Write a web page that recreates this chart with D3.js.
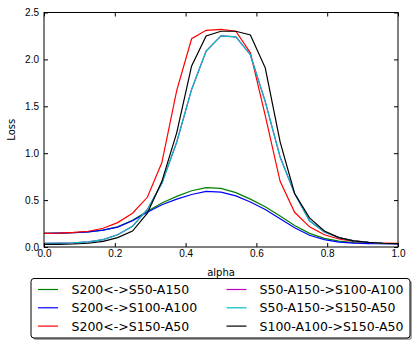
<!DOCTYPE html>
<html>
<head>
<meta charset="utf-8">
<script src="https://cdn.jsdelivr.net/npm/d3@7/dist/d3.min.js"></script>
<style>
  html, body { margin: 0; padding: 0; background: #fff; }
  svg { display: block; font-family: "DejaVu Sans", sans-serif; }
</style>
</head>
<body>
<div id="chart"></div>
<script>
// alpha grid (25 samples)
const alpha = [0, 0.042, 0.083, 0.125, 0.167, 0.208, 0.25, 0.292, 0.333, 0.375, 0.417, 0.458,
  0.5, 0.542, 0.583, 0.625, 0.667, 0.708, 0.75, 0.792, 0.833, 0.875, 0.917, 0.958, 1];

const s200_s50a150 = [0.145, 0.147, 0.152, 0.162, 0.18, 0.215, 0.285, 0.38, 0.47, 0.54, 0.6, 0.632,
  0.625, 0.58, 0.51, 0.43, 0.33, 0.23, 0.145, 0.092, 0.062, 0.047, 0.04, 0.037, 0.035];
const s200_s100a100 = [0.145, 0.147, 0.152, 0.162, 0.18, 0.212, 0.28, 0.37, 0.45, 0.51, 0.56, 0.592,
  0.585, 0.545, 0.48, 0.4, 0.3, 0.205, 0.125, 0.078, 0.052, 0.041, 0.037, 0.035, 0.034];
const s200_s150a50 = [0.145, 0.148, 0.155, 0.168, 0.2, 0.26, 0.36, 0.53, 0.9, 1.67, 2.22, 2.31,
  2.32, 2.3, 2.07, 1.4, 0.7, 0.37, 0.215, 0.13, 0.085, 0.06, 0.048, 0.042, 0.038];
const s50a150_s100a100 = [0.04, 0.041, 0.045, 0.055, 0.078, 0.13, 0.22, 0.4, 0.68, 1.12, 1.68, 2.09,
  2.25, 2.24, 2.05, 1.55, 0.96, 0.57, 0.28, 0.16, 0.1, 0.065, 0.05, 0.04, 0.035];
const s50a150_s150a50 = [0.04, 0.041, 0.045, 0.055, 0.078, 0.13, 0.22, 0.4, 0.68, 1.12, 1.68, 2.09,
  2.25, 2.24, 2.05, 1.55, 0.96, 0.57, 0.28, 0.16, 0.1, 0.065, 0.05, 0.04, 0.035];
const s100a100_s150a50 = [0.028, 0.029, 0.032, 0.04, 0.06, 0.1, 0.17, 0.36, 0.7, 1.22, 1.93, 2.25,
  2.3, 2.3, 2.26, 1.91, 1.12, 0.57, 0.31, 0.17, 0.1, 0.065, 0.05, 0.04, 0.035];

const seriesNames = ['S200<->S50-A150', 'S200<->S100-A100', 'S200<->S150-A50',
  'S50-A150->S100-A100', 'S50-A150->S150-A50', 'S100-A100->S150-A50'];
const seriesValues = [s200_s50a150, s200_s100a100, s200_s150a50,
  s50a150_s100a100, s50a150_s150a50, s100a100_s150a50];
const seriesColors = ['#008000', '#0000ff', '#ff0000', '#bf00bf', '#00bfbf', '#000000'];

const xTicks = [0, 0.2, 0.4, 0.6, 0.8, 1.0];
const yTicks = [0, 0.5, 1.0, 1.5, 2.0, 2.5];

const width = 419, height = 346;
const margin = { top: 12.5, left: 44, right: 21, bottom: 99 };
const W = width - margin.left - margin.right;
const H = height - margin.top - margin.bottom;

const svg = d3.select('#chart').append('svg')
  .attr('width', width).attr('height', height);

const g = svg.append('g').attr('transform', `translate(${margin.left},${margin.top})`);

const x = d3.scaleLinear().domain([0, 1]).range([0, W]);
const y = d3.scaleLinear().domain([0, 2.5]).range([H, 0]);

svg.append('defs').append('clipPath').attr('id', 'clip')
  .append('rect').attr('width', W).attr('height', H);

// lines
const line = d3.line().x((d, i) => x(alpha[i])).y(d => y(d));
g.append('g').attr('clip-path', 'url(#clip)')
  .selectAll('path')
  .data(seriesValues)
  .join('path')
  .attr('d', d => line(d))
  .attr('fill', 'none')
  .attr('stroke', (d, i) => seriesColors[i])
  .attr('stroke-width', 1.2)
  .attr('stroke-linejoin', 'miter');

// axes, ticks pointing inward on all sides
const tick = 4;
const styleAxis = a => {
  a.select('.domain').remove();
  a.selectAll('.tick line').attr('stroke', '#000');
  a.selectAll('text').attr('fill', '#000').style('font-size', '10px');
};

g.append('g').attr('transform', `translate(0,${H})`)
  .call(d3.axisBottom(x).tickValues(xTicks).tickSize(-tick).tickPadding(3).tickFormat(d3.format('.1f')))
  .call(styleAxis);
g.append('g')
  .call(d3.axisTop(x).tickValues(xTicks).tickSize(-tick).tickFormat(''))
  .call(styleAxis);
g.append('g')
  .call(d3.axisLeft(y).tickValues(yTicks).tickSize(-tick).tickPadding(5).tickFormat(d3.format('.1f')))
  .call(styleAxis);
g.append('g').attr('transform', `translate(${W},0)`)
  .call(d3.axisRight(y).tickValues(yTicks).tickSize(-tick).tickFormat(''))
  .call(styleAxis);

// frame
g.append('rect').attr('width', W).attr('height', H)
  .attr('fill', 'none').attr('stroke', '#000').attr('stroke-width', 1);

// axis labels
svg.append('text')
  .attr('x', margin.left + W / 2).attr('y', 276)
  .attr('text-anchor', 'middle').style('font-size', '10px').text('alpha');
svg.append('text')
  .attr('transform', `translate(15,${margin.top + H / 2}) rotate(-90)`)
  .attr('text-anchor', 'middle').style('font-size', '10px').text('Loss');

// legend
const lg = { x: 31, y: 278.5, w: 379, h: 59.5 };
svg.append('rect')
  .attr('x', lg.x + 2).attr('y', lg.y + 2).attr('width', lg.w).attr('height', lg.h)
  .attr('rx', 3).attr('fill', '#4d4d4d').attr('opacity', 0.5);
svg.append('rect')
  .attr('x', lg.x).attr('y', lg.y).attr('width', lg.w).attr('height', lg.h)
  .attr('rx', 3).attr('fill', '#fff').attr('stroke', '#000').attr('stroke-width', 1);

const cols = [{ lx: 38, tx: 71.5 }, { lx: 226.5, tx: 259.5 }];
const rows = [289.5, 307.8, 326.1];
const items = svg.append('g').selectAll('g')
  .data(seriesNames)
  .join('g')
  .attr('transform', (d, i) => `translate(${cols[Math.floor(i / 3)].lx},${rows[i % 3]})`);
items.append('line')
  .attr('x1', 0).attr('x2', 20).attr('y1', 0).attr('y2', 0)
  .attr('stroke', (d, i) => seriesColors[i]).attr('stroke-width', 1.2);
items.append('text')
  .attr('x', (d, i) => cols[Math.floor(i / 3)].tx - cols[Math.floor(i / 3)].lx)
  .attr('dy', '0.36em')
  .style('font-size', '12.5px')
  .text(d => d);
</script>
</body>
</html>
